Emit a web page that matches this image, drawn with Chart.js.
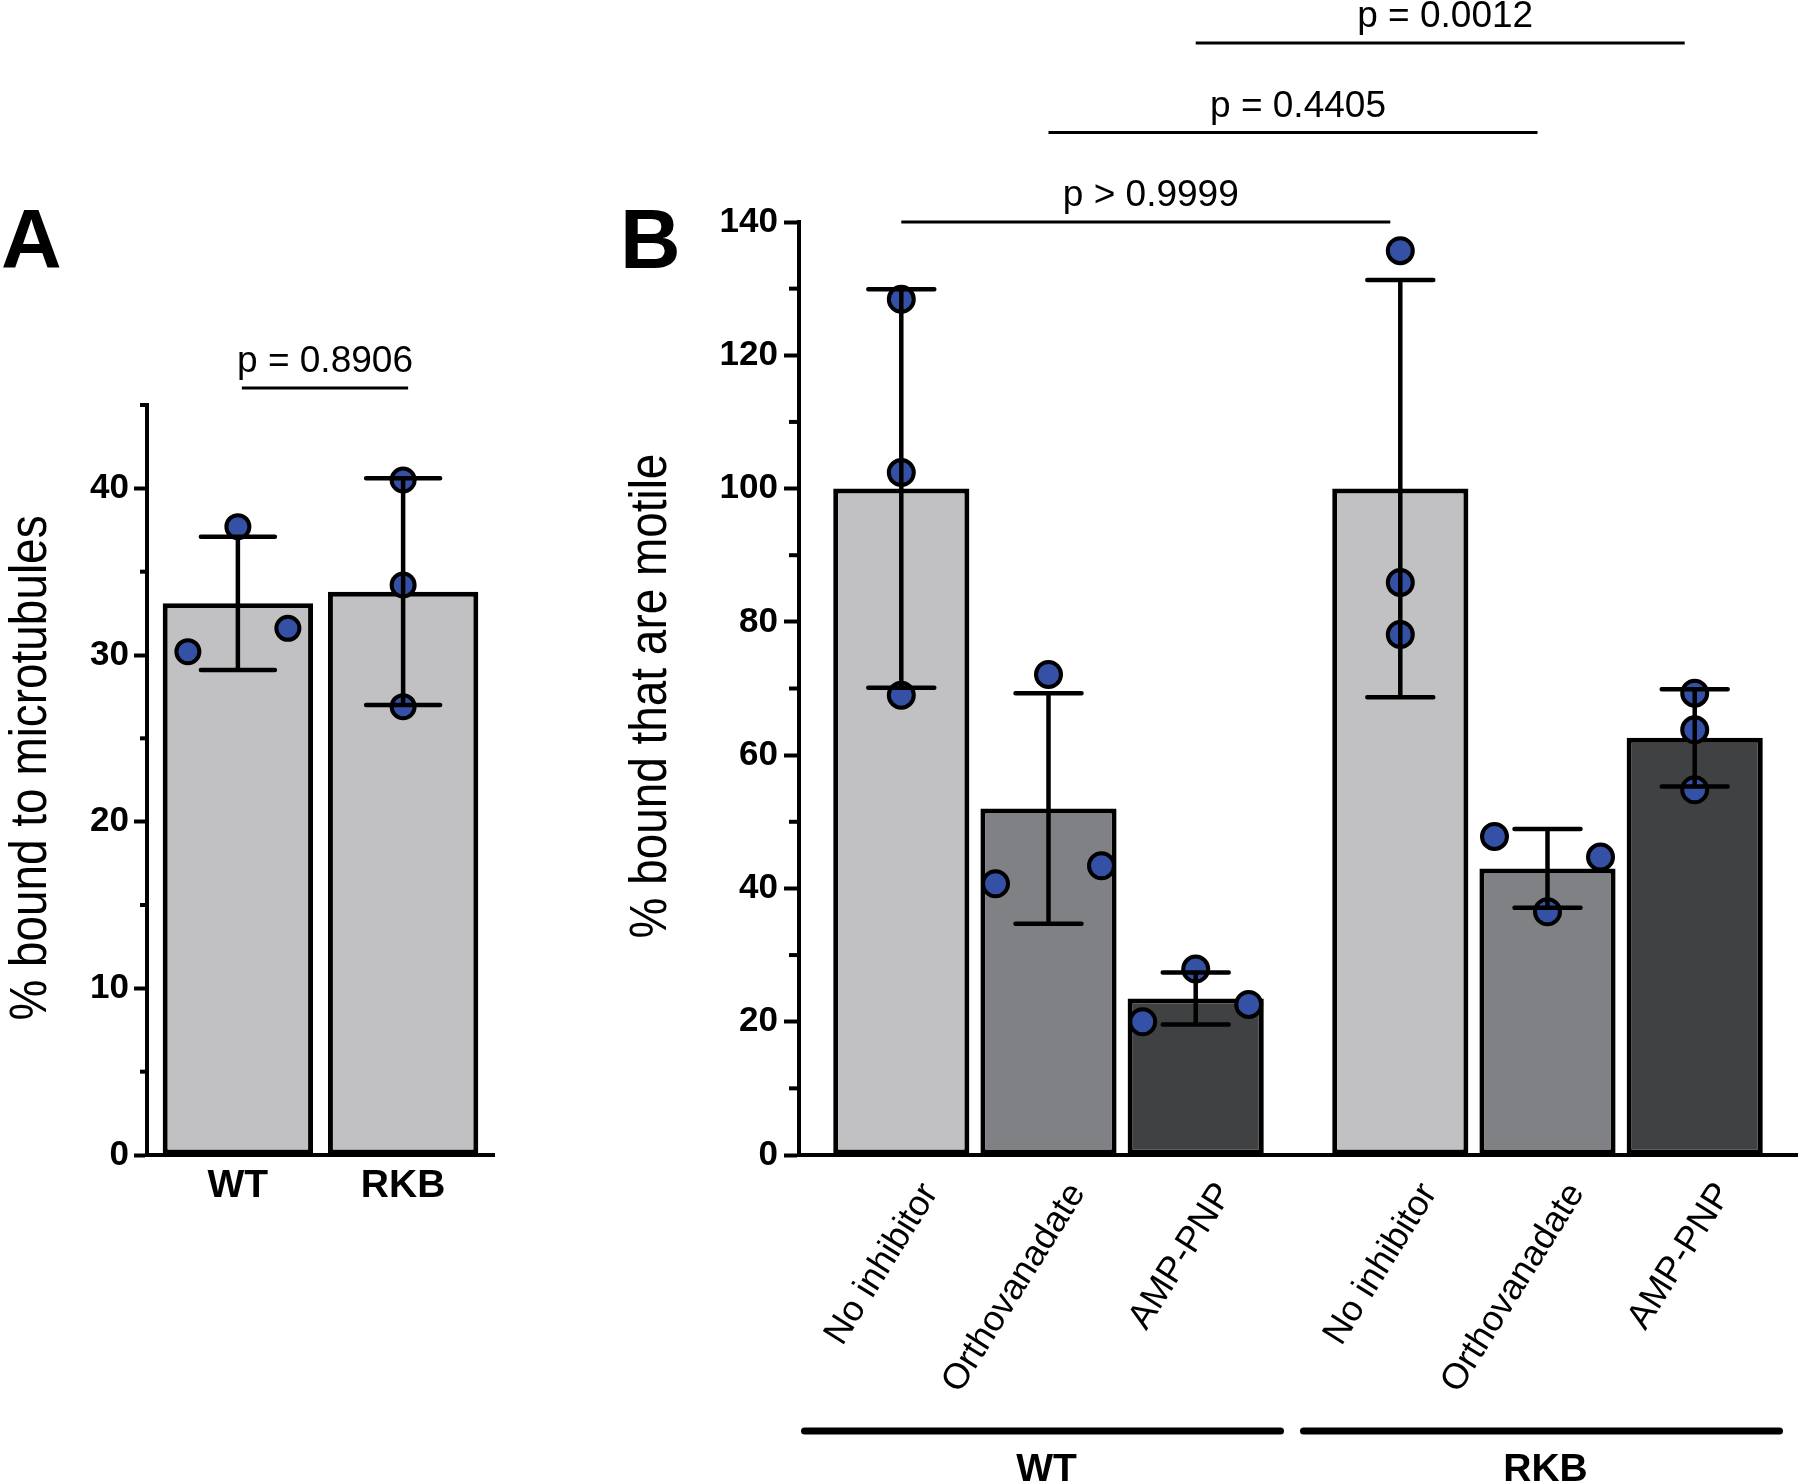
<!DOCTYPE html>
<html>
<head>
<meta charset="utf-8">
<script src="https://cdn.jsdelivr.net/npm/chart.js@4.4.1/dist/chart.umd.min.js"></script>
<style>
html, body { margin: 0; padding: 0; background: #fff; }
#wrap { position: relative; width: 1800px; height: 1484px; overflow: hidden; }
canvas { position: absolute; top: 0; }
#chartA { left: 0; }
#chartB { left: 540px; }
</style>
</head>
<body>
<div id="wrap">
  <canvas id="chartA" width="540" height="1484"></canvas>
  <canvas id="chartB" width="1260" height="1484"></canvas>
</div>
<script>
// ==================== DATA ====================
// Panel A: % bound to microtubules
const catsA = ['WT', 'RKB'];
const meanA = [33.1, 33.8];
const sdA = [4.0, 6.8];
const repsA = [[37.7, 30.2, 31.6], [40.5, 34.2, 26.9]];
const spreadA = [[0, -1, 1], [0, 0, 0]];   // -1 left, 0 centre, 1 right
const pTextA = 'p = 0.8906';

// Panel B: % bound that are motile
const groupsB = ['WT', 'RKB'];
const treatments = ['No inhibitor', 'Orthovanadate', 'AMP-PNP'];
const noInhMean = [100, 100];
const orthoMean = [52.0, 43.0];
const ampMean = [23.5, 62.6];
const noInhSd = [29.9, 31.3];
const orthoSd = [17.3, 5.9];
const ampSd = [3.9, 7.3];
const noInhReps = [[128.4, 102.4, 69.0], [135.7, 85.9, 78.1]];
const orthoReps = [[72.1, 40.7, 43.4], [47.8, 36.5, 44.7]];
const ampReps = [[27.9, 20.0, 22.6], [69.3, 63.8, 54.8]];
const noInhSpread = [[0, 0, 0], [0, 0, 0]];
const orthoSpread = [[0, -1, 1], [-1, 0, 1]];
const ampSpread = [[0, -1, 1], [0, 0, 0]];
const pTextsB = ['p > 0.9999', 'p = 0.4405', 'p = 0.0012'];   // WT vs RKB, per treatment

// ==================== STYLE ====================
const FONT = "'Liberation Sans', Arial, Helvetica, sans-serif";
const LIGHT = '#c1c1c3', MID = '#808184', DARK = '#404143';
const DOT = '#3451a6';
Chart.defaults.font.family = FONT;
Chart.defaults.color = '#000';

// ==================== HELPERS ====================
function dotsAndErrors(cfg) {
    return {
        id: 'dotsAndErrors',
        afterDatasetsDraw(chart) {
            const ctx = chart.ctx, y = chart.scales.y;
            chart.data.datasets.forEach((ds, di) => {
                const meta = chart.getDatasetMeta(di);
                meta.data.forEach((bar, j) => {
                    ctx.save();
                    // replicates
                    ds.reps[j].forEach((v, k) => {
                        ctx.beginPath();
                        ctx.arc(bar.x + ds.spread[j][k] * cfg.offset, y.getPixelForValue(v), cfg.r, 0, Math.PI * 2);
                        ctx.fillStyle = DOT;
                        ctx.fill();
                        ctx.lineWidth = 4;
                        ctx.strokeStyle = '#000';
                        ctx.stroke();
                    });
                    // mean +- SD
                    const mean = ds.means[j];
                    const top = y.getPixelForValue(mean + ds.sd[j]);
                    const bot = y.getPixelForValue(mean - ds.sd[j]);
                    ctx.strokeStyle = '#000';
                    ctx.lineWidth = 4.5;
                    ctx.lineCap = 'round';
                    ctx.beginPath();
                    ctx.moveTo(bar.x, top); ctx.lineTo(bar.x, bot);
                    ctx.moveTo(bar.x - cfg.cap, top); ctx.lineTo(bar.x + cfg.cap, top);
                    ctx.moveTo(bar.x - cfg.cap, bot); ctx.lineTo(bar.x + cfg.cap, bot);
                    ctx.stroke();
                    ctx.restore();
                });
            });
        }
    };
}

function minorTicks(len, every) {
    return {
        id: 'minorTicks',
        afterDraw(chart) {
            const y = chart.scales.y, ctx = chart.ctx;
            ctx.save();
            ctx.strokeStyle = '#000';
            ctx.lineWidth = 4;
            y.ticks.forEach(t => {
                if (t.value % every === 0) return;
                const py = y.getPixelForValue(t.value);
                ctx.beginPath();
                ctx.moveTo(y.right - len, py);
                ctx.lineTo(y.right, py);
                ctx.stroke();
            });
            ctx.restore();
        }
    };
}

function yTitle(ctx, text, x, y) {
    ctx.save();
    ctx.translate(x, y);
    ctx.rotate(-Math.PI / 2);
    ctx.scale(0.9, 1);   // narrow, like the condensed original
    ctx.font = '51px ' + FONT;
    ctx.fillStyle = '#000';
    ctx.textAlign = 'center';
    ctx.textBaseline = 'alphabetic';
    ctx.fillText(text, 0, 0);
    ctx.restore();
}

function panelLetter(ctx, ch, x) {
    ctx.save();
    ctx.font = 'bold 84px ' + FONT;
    ctx.fillStyle = '#000';
    ctx.textAlign = 'left';
    ctx.textBaseline = 'alphabetic';
    ctx.fillText(ch, x, 268);
    ctx.restore();
}

function yScaleOpts(max, labelEvery, tickLen, pad, width) {
    return {
        min: 0, max: max,
        grid: {
            drawOnChartArea: false, tickLength: tickLen, tickWidth: 4,
            tickColor: c => (c.tick && c.tick.value % labelEvery === 0) ? '#000' : 'rgba(0,0,0,0)'
        },
        border: { color: '#000', width: 4 },
        ticks: {
            stepSize: labelEvery / 2, padding: pad, color: '#000', autoSkip: false,
            font: { size: 35, weight: 'bold' },
            callback: v => v % labelEvery === 0 ? v : ''
        },
        afterFit: s => { s.width = width; }
    };
}

// ==================== PANEL A ====================
const panelAExtras = {
    id: 'aExtras',
    afterDraw(chart) {
        const ctx = chart.ctx, m = chart.getDatasetMeta(0);
        const x1 = m.data[0].x + 4, x2 = m.data[1].x + 5, ly = chart.chartArea.top - 17;
        ctx.save();
        ctx.strokeStyle = '#000';
        ctx.lineWidth = 3;
        ctx.beginPath(); ctx.moveTo(x1, ly); ctx.lineTo(x2, ly); ctx.stroke();
        ctx.fillStyle = '#000';
        ctx.font = '37px ' + FONT;
        ctx.textAlign = 'center';
        ctx.textBaseline = 'alphabetic';
        ctx.fillText(pTextA, (x1 + x2) / 2, ly - 16);
        ctx.restore();
        yTitle(ctx, '% bound to microtubules', 46, 768);
        panelLetter(ctx, 'A', 1);
    }
};

new Chart(document.getElementById('chartA'), {
    type: 'bar',
    data: {
        datasets: [{
            data: meanA.map((v, i) => ({ x: i, y: v })),
            means: meanA, sd: sdA, reps: repsA, spread: spreadA,
            backgroundColor: LIGHT, borderColor: '#000', borderWidth: 5, borderSkipped: false,
            barPercentage: 0.91, categoryPercentage: 1
        }]
    },
    options: {
        responsive: false, animation: false, devicePixelRatio: 1,
        layout: { padding: { top: 405, left: 0, right: 46, bottom: 229 } },
        plugins: { legend: { display: false }, tooltip: { enabled: false } },
        scales: {
            x: {
                type: 'linear', min: -0.55, max: 1.55, offset: false,
                afterBuildTicks: s => { s.ticks = catsA.map((c, i) => ({ value: i })); },
                grid: { display: true, offset: false, drawOnChartArea: false, drawTicks: false },
                border: { color: '#000', width: 4 },
                ticks: { font: { size: 39, weight: 'bold' }, padding: 8, color: '#000', callback: v => catsA[v] },
                afterFit: s => { s.height = 100; }
            },
            y: yScaleOpts(45, 10, 13, 5, 147)
        }
    },
    plugins: [dotsAndErrors({ r: 11.5, offset: 50, cap: 37 }), minorTicks(7, 10), panelAExtras]
});

// ==================== PANEL B ====================
const panelBExtras = {
    id: 'bExtras',
    afterDraw(chart) {
        const ctx = chart.ctx, area = chart.chartArea, xs = chart.scales.x;
        ctx.save();
        ctx.fillStyle = '#000';
        ctx.strokeStyle = '#000';

        // comparison brackets, WT vs RKB for each treatment
        pTextsB.forEach((txt, i) => {
            const m = chart.getDatasetMeta(i);
            const c1 = m.data[0].x, c2 = m.data[1].x;
            const ly = area.top - i * 89.5;
            ctx.lineWidth = 3;
            ctx.beginPath(); ctx.moveTo(c1, ly); ctx.lineTo(c2 - 10, ly); ctx.stroke();
            ctx.font = '37px ' + FONT;
            ctx.textAlign = 'center';
            ctx.textBaseline = 'alphabetic';
            ctx.fillText(txt, (c1 + c2) / 2, ly - 16);
        });

        // rotated treatment labels under each bar
        ctx.font = '36px ' + FONT;
        ctx.textAlign = 'right';
        ctx.textBaseline = 'middle';
        chart.data.datasets.forEach((ds, i) => {
            chart.getDatasetMeta(i).data.forEach(bar => {
                ctx.save();
                ctx.translate(bar.x + 29, area.bottom + 32);
                ctx.rotate(-58 * Math.PI / 180);
                ctx.fillText(ds.label, 0, 0);
                ctx.restore();
            });
        });

        // group rules and names
        groupsB.forEach((g, j) => {
            const gc = xs.getPixelForValue(j);
            ctx.lineWidth = 7;
            ctx.lineCap = 'round';
            ctx.beginPath(); ctx.moveTo(gc - 244, 1431); ctx.lineTo(gc + 232, 1431); ctx.stroke();
            ctx.font = 'bold 39px ' + FONT;
            ctx.textAlign = 'center';
            ctx.textBaseline = 'alphabetic';
            ctx.fillText(g, gc - 2, 1481);
        });
        ctx.restore();

        yTitle(ctx, '% bound that are motile', 126, 696);
        panelLetter(ctx, 'B', 80);
    }
};

const fillsB = [LIGHT, MID, DARK];
const meansB = [noInhMean, orthoMean, ampMean];
const sdsB = [noInhSd, orthoSd, ampSd];
const repsB = [noInhReps, orthoReps, ampReps];
const spreadsB = [noInhSpread, orthoSpread, ampSpread];

new Chart(document.getElementById('chartB'), {
    type: 'bar',
    data: {
        labels: groupsB,
        datasets: treatments.map((t, i) => ({
            label: t, data: meansB[i], means: meansB[i], sd: sdsB[i], reps: repsB[i], spread: spreadsB[i],
            backgroundColor: fillsB[i], borderColor: '#000', borderWidth: 5, borderSkipped: false,
            barPercentage: 0.925, categoryPercentage: 0.885
        }))
    },
    options: {
        responsive: false, animation: false, devicePixelRatio: 1,
        layout: { padding: { top: 222, left: 0, right: 3, bottom: 229 } },
        plugins: { legend: { display: false }, tooltip: { enabled: false } },
        scales: {
            x: {
                grid: { display: true, drawOnChartArea: false, drawTicks: false },
                border: { color: '#000', width: 4 },
                ticks: { display: false },
                afterFit: s => { s.height = 100; }
            },
            y: yScaleOpts(140, 20, 15, 6, 259)
        }
    },
    plugins: [dotsAndErrors({ r: 12.5, offset: 53, cap: 33 }), minorTicks(10, 20), panelBExtras]
});
</script>
</body>
</html>
